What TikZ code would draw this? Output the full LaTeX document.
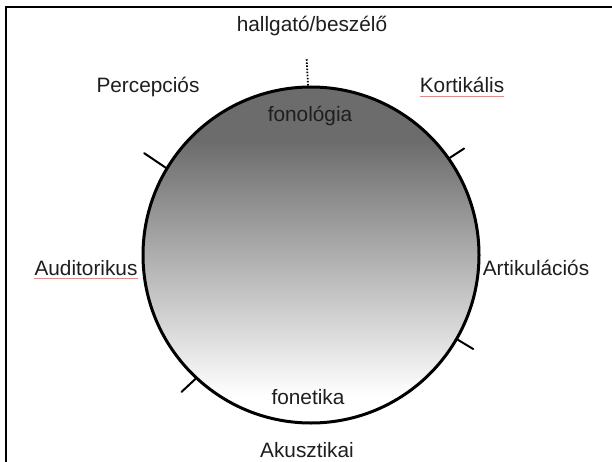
\documentclass[tikz,border=0pt]{standalone}
\usepackage{fontspec}
\setmainfont{Liberation Sans}
\usetikzlibrary{calc}
\definecolor{darkg}{RGB}{108,108,108}
\definecolor{txt}{RGB}{30,30,30}
\definecolor{spell}{RGB}{225,140,140}
\pgfdeclareverticalshading{circshade}{100bp}{color(0bp)=(white); color(29bp)=(white); color(67bp)=(darkg); color(100bp)=(darkg)}
\tikzset{
  lbl/.style={font=\fontsize{20.8}{24}\selectfont, text=txt, inner sep=0pt, anchor=base},
  ticklin/.style={line width=2pt, line cap=round},
  frameline/.style={line width=2.6pt},
  dotline/.style={line width=1.8pt, dash pattern=on 1.5pt off 1.6pt},
  spellline/.style={line width=0.8pt, spell},
  ring/.style={circle, draw, line width=3pt, minimum size=336pt, inner sep=0pt, shading=circshade}
}
\begin{document}
\begin{tikzpicture}[x=1pt,y=1pt]
\useasboundingbox (0,0) rectangle (612,461);
% frame (top and left edges)
\coordinate (f1) at (6,-5);
\coordinate (f2) at (6,454);
\coordinate (f3) at (620,454);
\draw[frameline] (f1) -- (f2) -- (f3);
% circle
\node[ring] (c) at (311,206) {};
% dotted line to top label
\coordinate (dtop) at (306.6,402);
\draw[dotline] (c.91.5) -- (dtop);
% ticks
\coordinate (t1) at ($(c.149)+(146:26)$);
\draw[ticklin] (c.149) -- (t1);
\coordinate (t2) at ($(c.35)+(33:17)$);
\draw[ticklin] (c.35) -- (t2);
\coordinate (t3) at ($(c.-30)+(-31:18)$);
\draw[ticklin] (c.-30) -- (t3);
\coordinate (t4) at ($(c.227)+(223:19)$);
\draw[ticklin] (c.227) -- (t4);
% labels
\node[lbl] (hb) at (312,429) {hallgató/beszélő};
\node[lbl] (pc) at (148,368) {Percepciós};
\node[lbl] (kt) at (462,368) {Kortikális};
\node[lbl] (fl) at (310,339) {fonológia};
\node[lbl] (au) at (86,186) {Auditorikus};
\node[lbl] (ar) at (536,186) {Artikulációs};
\node[lbl] (ft) at (308,57) {fonetika};
\node[lbl] (ak) at (307,4) {Akusztikai};
% spell-check underlines
\draw[spellline] ([yshift=-2.5pt]kt.south west) -- ([yshift=-2.5pt]kt.south east);
\draw[spellline] ([yshift=-2.5pt]au.south west) -- ([yshift=-2.5pt]au.south east);
\end{tikzpicture}
\end{document}
